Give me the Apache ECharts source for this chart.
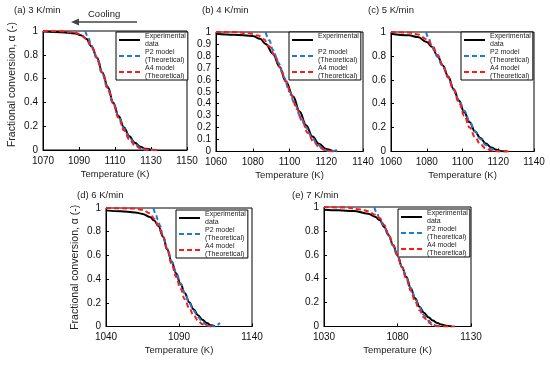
<!DOCTYPE html>
<html><head><meta charset="utf-8">
<script src="https://cdn.jsdelivr.net/npm/echarts@6/dist/echarts.min.js"></script>
<style>html,body{margin:0;padding:0;background:#fff}#c{width:550px;height:368px}</style>
</head><body><div id="c"></div>
<script>
// ---- panel titles and axis ticks ----
const titles = ['(a) 3 K/min', '(b) 4 K/min', '(c) 5 K/min', '(d) 6 K/min', '(e) 7 K/min'];
const xTicksA = [1070, 1090, 1110, 1130, 1150];
const xTicksB = [1060, 1080, 1100, 1120, 1140];
const xTicksC = [1060, 1080, 1100, 1120, 1140];
const xTicksD = [1040, 1090, 1140];
const xTicksE = [1030, 1080, 1130];
const yStepA = 0.2, yStepB = 0.1, yStepC = 0.2, yStepD = 0.2, yStepE = 0.2;
const seriesNames = ['Experimental\ndata', 'P2 model\n(Theoretical)', 'A4 model\n(Theoretical)'];
const seriesNamesB = ['Experimental\n ', 'P2 model\n(Theoretical)', 'A4 model\n(Theoretical)'];

// ---- (a) 3 K/min ----
const aExpT = [1070,1080,1088,1091,1094,1097,1100,1103,1106,1109,1112,1115,1118,1121,1124,1127,1130];
const aExpY = [0.995,0.99,0.98,0.965,0.935,0.87,0.775,0.65,0.53,0.40,0.285,0.19,0.115,0.06,0.028,0.01,0.002];
const aP2T = [1093.5,1095,1096.5,1098,1100,1103,1106,1109,1112,1115,1118,1121,1124,1127,1130,1131.5];
const aP2Y = [1.0,0.95,0.9,0.84,0.76,0.635,0.51,0.39,0.28,0.18,0.105,0.05,0.018,0.003,0.0,0.004];
const aA4T = [1070,1080,1088,1091,1094,1097,1100,1103,1106,1109,1112,1115,1118,1121,1124,1127,1130,1135];
const aA4Y = [1.0,0.998,0.985,0.97,0.935,0.87,0.775,0.65,0.52,0.39,0.27,0.165,0.09,0.04,0.015,0.004,0.001,0];

// ---- (b) 4 K/min ----
const bExpT = [1060,1070,1080,1084,1087,1091,1094.5,1098,1102,1105.5,1109,1112.5,1116,1120,1124];
const bExpY = [0.986,0.978,0.967,0.944,0.90,0.82,0.71,0.585,0.46,0.335,0.22,0.125,0.064,0.02,0];
const bP2T = [1087,1089,1091,1094,1097,1100,1103,1106,1109,1112,1115,1118,1121,1123,1125,1127];
const bP2Y = [1.0,0.93,0.85,0.74,0.62,0.50,0.39,0.29,0.20,0.125,0.065,0.025,0.004,0.0,0.008,0.03];
const bA4T = [1060,1070,1078,1083,1086,1089,1092,1095,1098,1101,1104,1107,1110,1113,1116,1119,1122,1126];
const bA4Y = [1.0,0.999,0.99,0.97,0.94,0.88,0.80,0.70,0.59,0.47,0.355,0.25,0.155,0.085,0.04,0.013,0.003,0];

// ---- (c) 5 K/min ----
const cExpT = [1060,1070,1075,1080,1083,1086,1089,1092,1095,1098,1101,1104,1107,1110,1113,1116,1119,1122,1125];
const cExpY = [0.986,0.972,0.958,0.916,0.874,0.80,0.72,0.627,0.524,0.426,0.328,0.244,0.168,0.112,0.067,0.034,0.014,0.003,0];
const cP2T = [1079.6,1081,1082.5,1084,1086,1089,1092,1095,1098,1101,1104,1107,1110,1113,1116,1119,1121];
const cP2Y = [1.0,0.95,0.9,0.85,0.79,0.71,0.62,0.52,0.43,0.34,0.25,0.17,0.105,0.055,0.022,0.005,0];
const cA4T = [1060,1070,1075,1080,1083,1086,1089,1092,1095,1098,1101,1104,1107,1110,1113,1116,1120,1126];
const cA4Y = [1.0,0.995,0.98,0.94,0.89,0.81,0.72,0.62,0.515,0.41,0.30,0.20,0.12,0.06,0.025,0.008,0.001,0];

// ---- (d) 6 K/min ----
const dExpT = [1040,1050,1060,1065,1070,1073,1076,1079,1082,1085,1088,1091,1094,1097,1100,1103,1106,1109,1112,1114.5];
const dExpY = [0.98,0.972,0.963,0.95,0.925,0.895,0.845,0.76,0.65,0.545,0.45,0.36,0.28,0.205,0.145,0.095,0.058,0.03,0.01,0];
const dP2T = [1072.5,1074,1075.5,1077,1079,1082,1085,1088,1091,1094,1097,1100,1103,1106,1109,1112,1114,1116,1118];
const dP2Y = [1.0,0.95,0.9,0.85,0.765,0.655,0.55,0.455,0.365,0.28,0.2,0.135,0.08,0.04,0.013,0.001,0.002,0.012,0.03];
const dA4T = [1040,1050,1060,1065,1070,1073,1076,1079,1082,1085,1088,1091,1094,1097,1100,1103,1106,1109,1112];
const dA4Y = [1.0,0.998,0.995,0.985,0.955,0.91,0.85,0.76,0.645,0.525,0.42,0.32,0.23,0.155,0.095,0.05,0.02,0.006,0];

// ---- (e) 7 K/min ----
const eExpT = [1030,1040,1050,1060,1065,1068,1071,1074,1077,1080,1083,1086,1089,1092,1095,1098,1101,1104,1107,1110,1113,1117];
const eExpY = [0.978,0.972,0.967,0.944,0.917,0.889,0.833,0.764,0.68,0.597,0.5,0.417,0.32,0.236,0.165,0.115,0.078,0.05,0.03,0.016,0.007,0];
const eP2T = [1064.2,1066,1067.5,1069,1071,1074,1077,1080,1083,1086,1089,1092,1095,1098,1101,1104,1107,1109];
const eP2Y = [1.0,0.95,0.91,0.875,0.83,0.76,0.675,0.59,0.5,0.41,0.32,0.235,0.16,0.095,0.048,0.016,0.002,0];
const eA4T = [1030,1045,1055,1060,1065,1068,1071,1074,1077,1080,1083,1086,1089,1092,1095,1098,1101,1104,1107,1110,1119];
const eA4Y = [1.0,0.995,0.98,0.965,0.935,0.905,0.85,0.77,0.685,0.595,0.495,0.40,0.30,0.21,0.135,0.075,0.035,0.013,0.004,0.001,0];

const FONT = '"Liberation Sans", Arial, sans-serif';
const zip = (xs, ys) => xs.map((x, i) => [x, ys[i]]);

const panels = [
  { grid: {left: 43, top: 31, width: 144, height: 119}, ticks: xTicksA, step: yStepA, yName: true,
    legend: {left: 116, top: 32}, title: {left: 14, top: 5}, names: seriesNames,
    exp: zip(aExpT, aExpY), p2: zip(aP2T, aP2Y), a4: zip(aA4T, aA4Y) },
  { grid: {left: 216, top: 32, width: 147, height: 119.5}, ticks: xTicksB, step: yStepB, yName: false,
    legend: {left: 289, top: 32}, title: {left: 202, top: 5}, names: seriesNamesB,
    exp: zip(bExpT, bExpY), p2: zip(bP2T, bP2Y), a4: zip(bA4T, bA4Y) },
  { grid: {left: 391, top: 32, width: 143, height: 119.5}, ticks: xTicksC, step: yStepC, yName: false,
    legend: {left: 461, top: 32}, title: {left: 368, top: 5}, names: seriesNames,
    exp: zip(cExpT, cExpY), p2: zip(cP2T, cP2Y), a4: zip(cA4T, cA4Y) },
  { grid: {left: 106, top: 208, width: 146, height: 118.5}, ticks: xTicksD, step: yStepD, yName: true,
    legend: {left: 176, top: 210}, title: {left: 77, top: 190}, names: seriesNames,
    exp: zip(dExpT, dExpY), p2: zip(dP2T, dP2Y), a4: zip(dA4T, dA4Y) },
  { grid: {left: 324, top: 207, width: 147, height: 119.5}, ticks: xTicksE, step: yStepE, yName: false,
    legend: {left: 398, top: 209}, title: {left: 292, top: 190}, names: seriesNames,
    exp: zip(eExpT, eExpY), p2: zip(eP2T, eP2Y), a4: zip(eA4T, eA4Y) }
];

const option = {
  animation: false,
  backgroundColor: '#fff',
  textStyle: {fontFamily: FONT},
  title: [], grid: [], xAxis: [], yAxis: [], legend: [], series: [],
  graphic: [
    {type: 'text', left: 88, top: 9, style: {text: 'Cooling', fontSize: 9.5, fontFamily: FONT, fill: '#222'}},
    {type: 'line', shape: {x1: 137, y1: 22, x2: 76, y2: 22}, style: {stroke: '#444', lineWidth: 1.5}},
    {type: 'polygon', shape: {points: [[71, 22], [79, 18.5], [79, 25.5]]}, style: {fill: '#444'}}
  ]
};

panels.forEach((p, i) => {
  const min = p.ticks[0], max = p.ticks[p.ticks.length - 1];
  option.title.push({text: titles[i], left: p.title.left, top: p.title.top, padding: 0,
    textStyle: {fontSize: 9.5, fontWeight: 'normal', color: '#222', fontFamily: FONT}});
  option.grid.push(Object.assign({show: true, borderColor: '#000', borderWidth: 1, backgroundColor: 'transparent'}, p.grid));
  option.xAxis.push({
    type: 'value', gridIndex: i, min: min, max: max, interval: 10,
    name: 'Temperature (K)', nameLocation: 'middle', nameGap: 19,
    nameTextStyle: {fontSize: 9.5, color: '#222', fontFamily: FONT},
    axisLine: {show: true, lineStyle: {color: '#000', width: 1}},
    axisTick: {show: true, inside: true, length: 3, customValues: p.ticks, lineStyle: {color: '#000'}},
    axisLabel: {fontSize: 10, color: '#111', margin: 6, customValues: p.ticks, fontFamily: FONT,
      formatter: v => String(v)},
    splitLine: {show: false}
  });
  option.yAxis.push({
    type: 'value', gridIndex: i, min: 0, max: 1, interval: p.step,
    name: p.yName ? 'Fractional conversion, α (-)' : '', nameLocation: 'middle', nameGap: 25,
    nameTextStyle: {fontSize: 10.5, color: '#222', fontFamily: FONT, padding: i === 0 ? [0, 0, 0, 12] : 0},
    axisLine: {show: true, lineStyle: {color: '#000', width: 1}},
    axisTick: {show: true, inside: true, length: 3, lineStyle: {color: '#000'}},
    axisLabel: {fontSize: 10, color: '#111', margin: 5, fontFamily: FONT},
    splitLine: {show: false}
  });
  option.legend.push({
    left: p.legend.left, top: p.legend.top, orient: 'vertical',
    itemWidth: 21, itemHeight: 8, itemGap: 0, padding: [0, 2, 0, 2],
    borderColor: '#000', borderWidth: 1, backgroundColor: '#fff', selectedMode: false,
    itemStyle: {opacity: 0},
    textStyle: {fontSize: 7, lineHeight: 8, color: '#222', fontFamily: FONT},
    data: p.names
  });
  const base = {type: 'line', xAxisIndex: i, yAxisIndex: i, symbol: 'none', showSymbol: false,
    smooth: 0.4, smoothMonotone: 'x', clip: true};
  option.series.push(Object.assign({}, base, {name: p.names[0], data: p.exp, z: 3,
    lineStyle: {color: '#000', width: 2, type: 'solid'}, itemStyle: {color: '#000'}}));
  option.series.push(Object.assign({}, base, {name: p.names[1], data: p.p2, z: 4,
    lineStyle: {color: '#1f7ad2', width: 2, type: [5, 3]}, itemStyle: {color: '#1f7ad2'}}));
  option.series.push(Object.assign({}, base, {name: p.names[2], data: p.a4, z: 5,
    lineStyle: {color: '#ff1a1a', width: 2, type: [5, 3]}, itemStyle: {color: '#ff1a1a'}}));
});

const chart = echarts.init(document.getElementById('c'), null, {renderer: 'canvas'});
chart.setOption(option);
</script>
</body></html>
